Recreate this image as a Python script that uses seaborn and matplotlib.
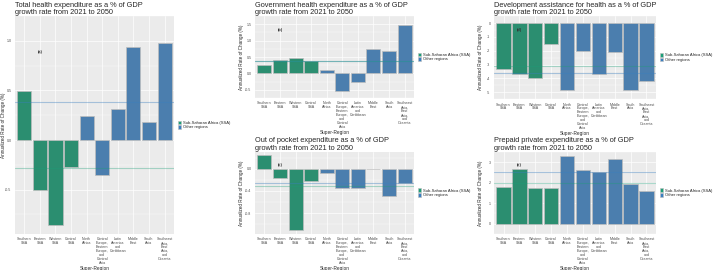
import pandas as pd
import numpy as np
import matplotlib
matplotlib.use("Agg")
import matplotlib.pyplot as plt
import matplotlib.transforms as mtransforms
from matplotlib.patches import Patch
import seaborn as sns

regions = ["Southern\nSSA", "Eastern\nSSA", "Western\nSSA", "Central\nSSA", "North\nAfrica",
           "Central\nEurope,\nEastern\nEurope,\nand\nCentral\nAsia",
           "Latin\nAmerica\nand\nCaribbean", "Middle\nEast", "South\nAsia",
           "Southeast\nAsia,\nEast\nAsia,\nand\nOceania"]
groups = ["Sub-Saharan Africa (SSA)"] * 4 + ["Other regions"] * 6

total_the = [0.49, -0.50, -0.855, -0.27, 0.24, -0.35, 0.31, 0.94, 0.18, 0.98]
govt_ghes = [0.26, 0.41, 0.48, 0.39, 0.09, -0.53, -0.25, 0.74, 0.68, 1.47]
oop = [0.24, -0.16, -1.11, -0.22, -0.07, -0.345, -0.355, -0.012, -0.50, -0.255]
dah = [-3.35, -3.70, -3.98, -1.53, -4.82, -2.04, -3.72, -2.10, -4.86, -4.20]
ppp = [1.80, 2.66, 1.72, 1.76, 3.27, 2.59, 2.53, 3.13, 1.93, 1.57]

titles = ["Total health expenditure as a % of GDP\ngrowth rate from 2021 to 2050",
          "Government health expenditure as a % of GDP\ngrowth rate from 2021 to 2050",
          "Out of pocket expenditure as a % of GDP\ngrowth rate from 2021 to 2050",
          "Development assistance for health as a % of GDP\ngrowth rate from 2021 to 2050",
          "Prepaid private expenditure as a % of GDP\ngrowth rate from 2021 to 2050"]
tags = ["(a)", "(b)", "(c)", "(d)", "(e)"]
yticks = [[-0.5, 0.0, 0.5, 1.0], [-0.5, 0.0, 0.5, 1.0, 1.5], [-0.8, -0.4, 0.0],
          [-5, -4, -3, -2, -1, 0], [0, 1, 2, 3]]
ytick_fmt = ["%.1f", "%.1f", "%.1f", "%d", "%d"]

colors = {"Sub-Saharan Africa (SSA)": "#1b9e77", "Other regions": "#3a7ebf"}

sns.set_theme(style="darkgrid")
plt.rcParams["font.family"] = ["Liberation Sans", "DejaVu Sans"]

# axes boxes in figure fraction
boxes = [[0.0208, 0.1333, 0.2208, 0.8074],
         [0.3542, 0.6370, 0.2208, 0.3037],
         [0.3542, 0.1333, 0.2208, 0.3048],
         [0.6861, 0.6330, 0.2250, 0.3074],
         [0.6861, 0.1333, 0.2250, 0.3048]]
ylab_x = [-0.058, -0.072, -0.072, -0.066, -0.066]

fig = plt.figure(figsize=(7.2, 2.7), dpi=100)

for i, vals in enumerate([total_the, govt_ghes, oop, dah, ppp]):
    df = pd.DataFrame({"region": regions, "value": vals, "group": groups})
    ax = fig.add_axes(boxes[i])
    ax.set_facecolor("#ebebeb")
    sns.barplot(data=df, x="region", y="value", hue="group", palette=colors,
                dodge=False, width=0.9, edgecolor="#bdbdbd", linewidth=0.5,
                legend=False, ax=ax, zorder=3)

    means = df.groupby("group")["value"].mean()
    ax.axhline(means["Other regions"], color="#3a7ebf", alpha=0.4, lw=0.8, zorder=4)
    ax.axhline(means["Sub-Saharan Africa (SSA)"], color="#1b9e77", alpha=0.35, lw=0.8, zorder=4)

    lo, hi = min(min(vals), 0), max(max(vals), 0)
    pad = 0.05 * (hi - lo)
    ax.set_ylim(lo - pad, hi + pad)
    ax.set_xlim(-0.6, 9.6)
    ax.set_yticks(yticks[i])
    ax.set_yticklabels([ytick_fmt[i] % t for t in yticks[i]])
    mt = np.diff(yticks[i])[0] / 2
    ax.set_yticks(np.arange(yticks[i][0] - mt, yticks[i][-1] + mt * 1.01, mt * 2), minor=True)
    ax.grid(which="major", color="white", lw=0.5, zorder=0)
    ax.grid(which="minor", axis="y", color="white", lw=0.25, zorder=0)
    for s in ax.spines.values():
        s.set_visible(False)

    ax.tick_params(axis="both", which="major", labelsize=2.6, length=1.5, width=0.4,
                   color="#333333", labelcolor="#4d4d4d", pad=1)
    ax.tick_params(axis="both", which="minor", length=0)
    for lab in ax.get_xticklabels():
        lab.set_linespacing(0.95)

    ax.set_xlabel("Super-Region", fontsize=3.4, labelpad=1)
    ax.set_ylabel("Annualized Rate of Change (%)", fontsize=3.3)
    ax.yaxis.set_label_coords(ylab_x[i], 0.5)
    ax.set_title(titles[i], loc="left", fontsize=5.3, pad=1.5, linespacing=1.05)

    trans = mtransforms.blended_transform_factory(ax.transData, ax.transAxes)
    ax.text(1, 0.835, tags[i], transform=trans, ha="center", va="center",
            fontsize=2.8, fontweight="bold", color="#333333", zorder=5)

    handles = [Patch(facecolor=colors[g], edgecolor="#bdbdbd", lw=0.4)
               for g in ["Sub-Saharan Africa (SSA)", "Other regions"]]
    ax.legend(handles, ["Sub-Saharan Africa (SSA)", "Other regions"],
              loc="center left", bbox_to_anchor=(1.01, 0.5), frameon=False,
              fontsize=3.0, handlelength=0.7, handleheight=1.0, handletextpad=0.4,
              labelspacing=0.05, borderaxespad=0.2)

fig.savefig("out.png", dpi=100)
